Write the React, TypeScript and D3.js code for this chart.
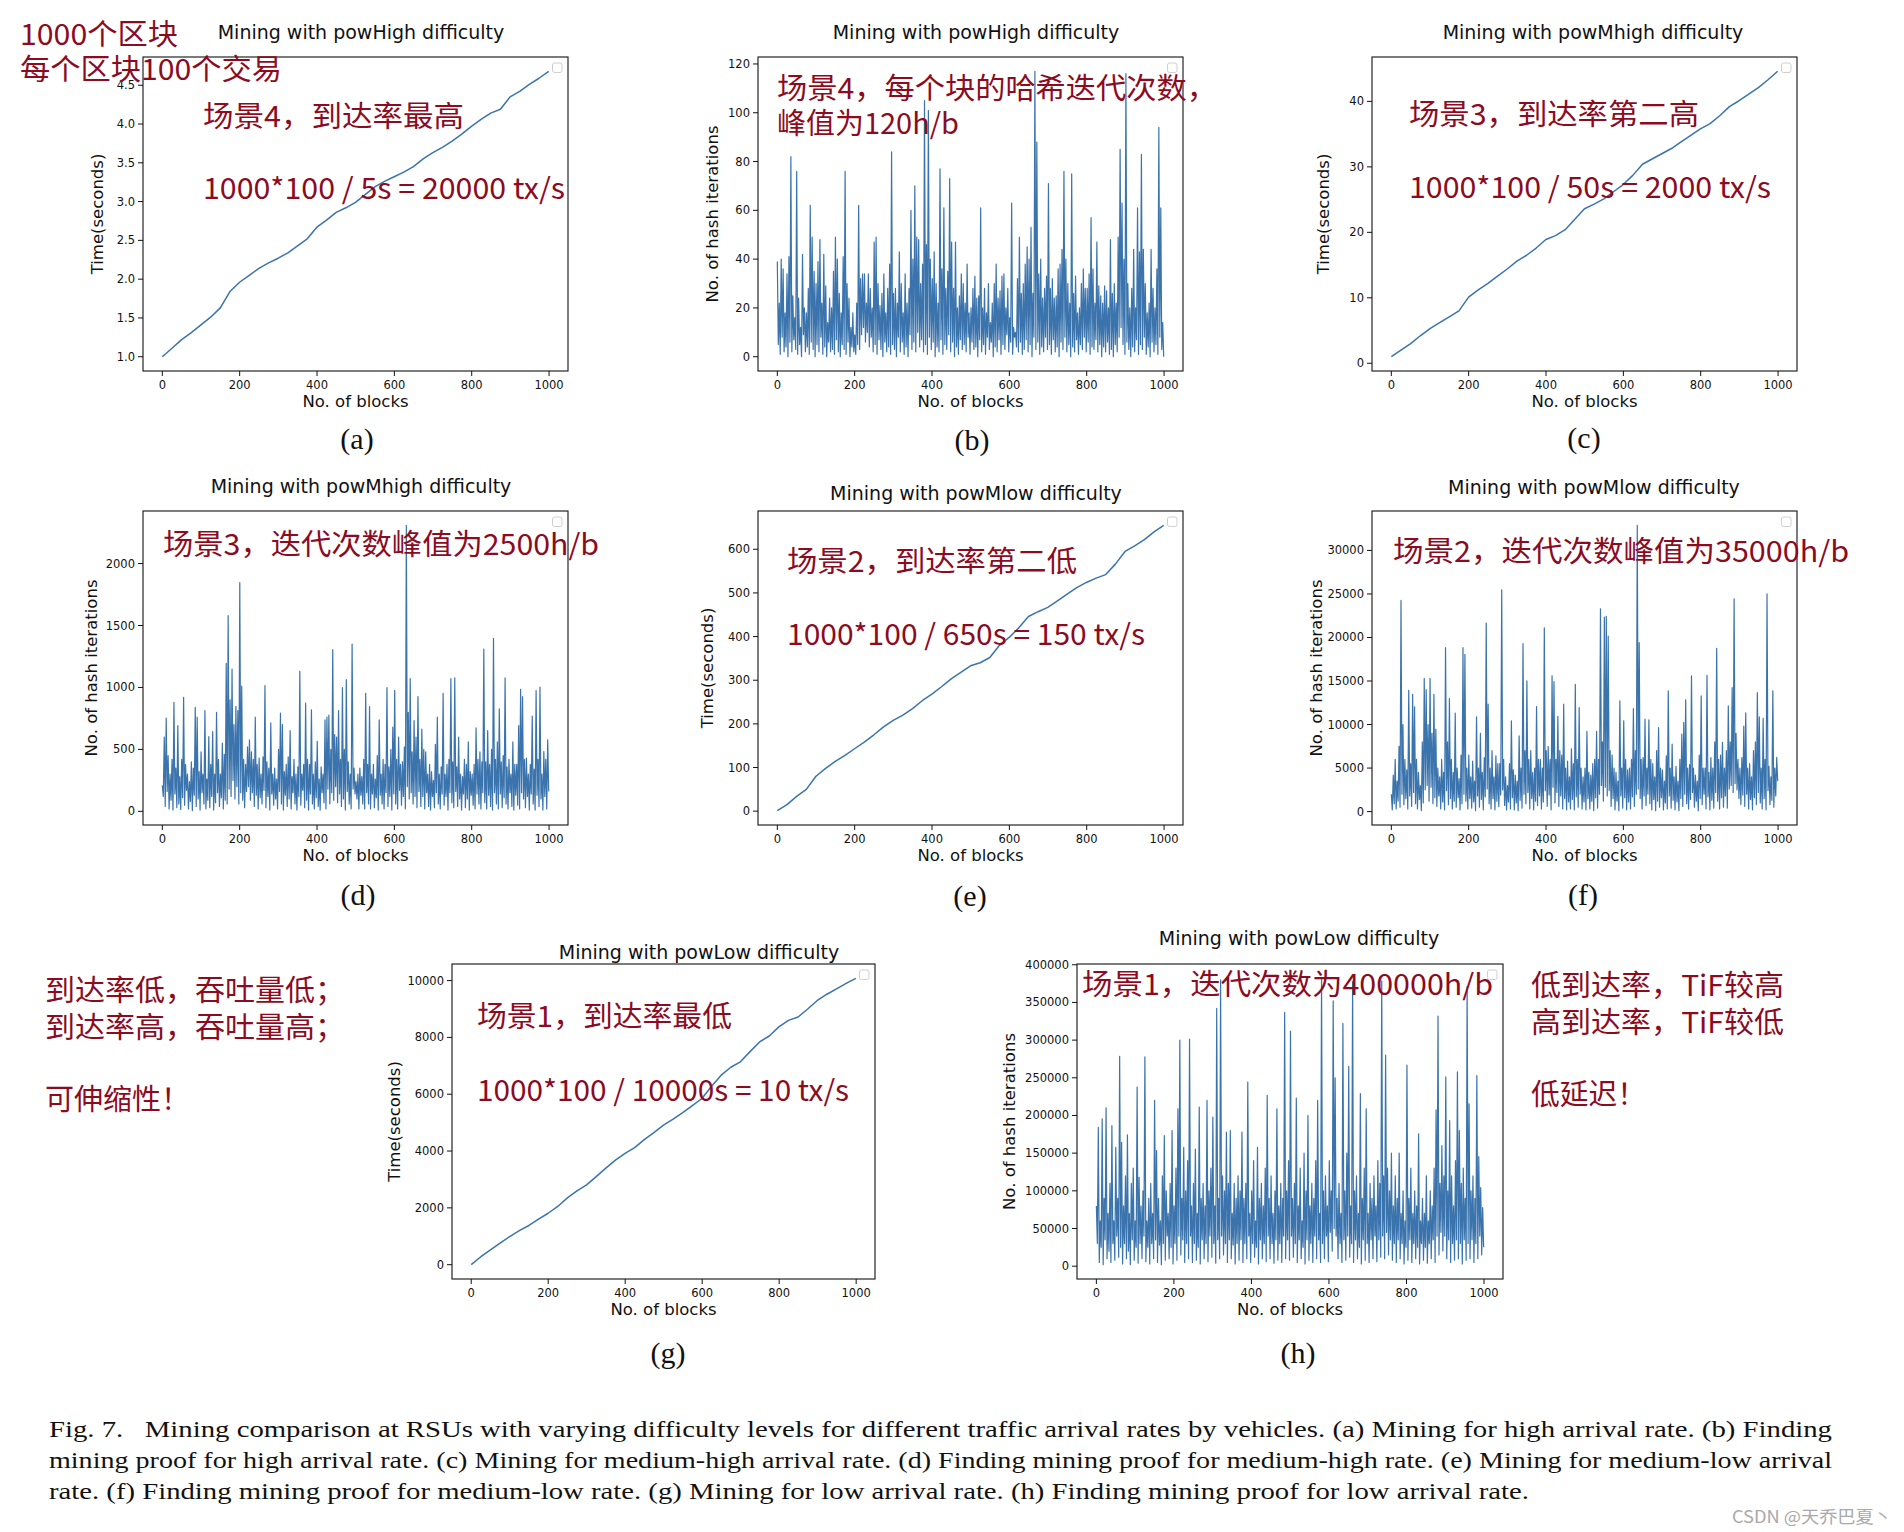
import React from 'react';
import * as d3 from 'd3';

// ---------- DATA ----------
const lastBlock = 999; // every series runs from block 0 to block 999, samples evenly spaced

const timeHigh = [1.0, 1.11, 1.22, 1.31, 1.41, 1.51, 1.63, 1.84, 1.96, 2.05, 2.14, 2.21, 2.27, 2.34, 2.43, 2.52, 2.67, 2.76, 2.86, 2.92, 2.99, 3.09, 3.19, 3.26, 3.32, 3.38, 3.45, 3.55, 3.63, 3.7, 3.78, 3.87, 3.97, 4.06, 4.14, 4.19, 4.35, 4.42, 4.51, 4.59, 4.68];

const hashHigh = [39,5, 22,1, 40,8, 36,2, 18,4, 34,0, 41,6, 82,2, 25,7, 16,3, 76,1, 24,5, 12,0, 42,9, 20,2, 18,4, 28,1, 62,6, 49,3, 35,0, 30,5, 39,2, 48,8, 22,1, 42,4, 29,0, 14,6, 24,2, 20,3, 35,1, 49,7, 40,2, 26,0, 18,5, 41,3, 76,1, 30,6, 24,0, 12,4, 18,2, 9,1, 22,5, 62,3, 32,9, 34,12, 34,6, 22,10, 34,4, 28,8, 20,2, 47,5, 49,1, 30,7, 21,3, 26,0, 34,6, 18,2, 28,4, 38,1, 84,5, 26,3, 28,0, 22,8, 43,2, 30,6, 18,1, 34,4, 22,0, 28,9, 60,3, 40,6, 70,2, 49,10, 48,4, 30,7, 38,2, 105,5, 46,1, 101,8, 40,3, 32,6, 43,0, 30,4, 22,2, 77,7, 36,1, 61,5, 28,3, 35,9, 73,2, 47,6, 28,0, 47,4, 20,1, 25,7, 34,3, 30,5, 22,2, 38,8, 18,1, 20,6, 28,3, 33,4, 24,0, 25,7, 61,2, 20,5, 28,1, 18,8, 30,3, 14,6, 22,0, 30,4, 38,2, 24,7, 27,1, 33,5, 34,3, 20,9, 28,2, 16,6, 63,1, 12,8, 10,4, 32,2, 49,6, 26,1, 30,3, 38,7, 45,2, 40,5, 53,0, 26,8, 117,3, 88,6, 34,1, 40,4, 24,2, 28,8, 33,3, 71,5, 28,1, 32,7, 24,2, 25,4, 36,0, 38,6, 44,3, 76,8, 40,2, 30,5, 22,0, 75,4, 26,2, 33,7, 18,1, 20,5, 30,3, 36,8, 28,2, 28,6, 34,1, 57,4, 36,3, 22,7, 47,2, 29,5, 25,0, 22,4, 29,2, 27,6, 20,1, 48,3, 26,0, 30,5, 22,2, 49,8, 85,12, 63,5, 40,1, 116,6, 30,3, 20,0, 28,4, 44,2, 20,7, 61,1, 43,5, 83,3, 44,8, 30,1, 18,4, 22,0, 44,6, 28,2, 20,5, 36,1, 94,8, 61,3, 14,0];

const timeMhigh = [1.0, 2.0, 3.0, 4.2, 5.3, 6.2, 7.1, 8.0, 10.1, 11.2, 12.2, 13.3, 14.4, 15.6, 16.5, 17.6, 18.9, 19.5, 20.4, 22.0, 23.6, 24.3, 25.1, 26.2, 27.3, 28.7, 30.4, 31.2, 32.0, 32.8, 33.8, 34.8, 35.8, 36.6, 37.8, 39.2, 40.1, 41.1, 42.1, 43.3, 44.6];

const hashMhigh = [210,120, 600,40, 752,160, 450,20, 300,90, 420,10, 880,140, 350,30, 693,60, 280,15, 420,110, 920,50, 380,170, 300,20, 240,80, 400,5, 350,130, 840,40, 760,100, 320,10, 480,150, 300,60, 814,20, 260,90, 604,30, 380,120, 644,10, 300,70, 800,150, 420,40, 300,110, 550,20, 460,90, 1195,60, 1579,180, 900,120, 1149,250, 700,100, 848,200, 814,60, 1847,150, 1010,90, 420,30, 380,160, 520,200, 577,90, 480,150, 420,40, 760,130, 380,20, 430,110, 300,60, 440,170, 1015,30, 400,120, 350,10, 714,140, 300,50, 350,100, 260,20, 500,160, 792,60, 700,10, 320,130, 380,40, 440,100, 652,20, 280,150, 420,60, 300,10, 360,120, 1130,50, 300,170, 380,30, 873,90, 420,10, 380,140, 819,60, 300,20, 400,110, 564,40, 260,10, 360,150, 300,70, 738,20, 760,180, 776,60, 500,150, 1305,90, 620,200, 600,70, 814,140, 420,40, 999,100, 500,10, 1063,160, 400,60, 300,20, 1350,180, 350,140, 240,100, 300,20, 350,130, 280,60, 420,20, 953,150, 380,60, 846,20, 300,140, 380,30, 260,110, 450,10, 738,130, 300,60, 420,20, 380,150, 999,40, 360,120, 500,10, 679,140, 977,60, 420,20, 600,170, 380,50, 400,120, 520,20, 2309,200, 800,100, 1071,150, 480,60, 733,120, 600,30, 926,160, 420,40, 663,120, 500,20, 480,150, 300,40, 380,10, 320,120, 250,30, 540,150, 760,60, 300,20, 360,140, 953,50, 300,120, 380,10, 420,150, 1071,70, 400,30, 1077,160, 360,40, 600,100, 300,10, 280,140, 420,30, 380,100, 560,10, 320,130, 300,50, 380,20, 674,140, 420,60, 480,20, 400,150, 1310,70, 400,20, 652,130, 380,40, 500,10, 1396,150, 420,60, 560,20, 827,140, 400,30, 450,110, 1077,60, 360,20, 420,150, 300,40, 560,10, 380,130, 380,50, 693,20, 985,150, 926,100, 420,30, 430,120, 300,10, 380,140, 768,60, 340,10, 975,130, 420,40, 1002,100, 300,10, 483,120, 420,20, 577,160];

const timeMlow = [1, 15, 34, 50, 80, 98, 114, 128, 143, 158, 175, 193, 208, 220, 235, 253, 268, 285, 303, 318, 333, 340, 352, 380, 398, 420, 446, 457, 467, 482, 497, 512, 524, 534, 542, 566, 595, 608, 622, 640, 655];

const hashMlow = [2000,200, 4200,900, 6000,300, 3500,1200, 7500,500, 24260,2000, 10000,800, 6000,1500, 4800,300, 13940,1800, 5500,600, 13480,2200, 12030,900, 6000,300, 4500,1400, 3000,100, 8000,1000, 15320,2500, 14000,3000, 10000,1200, 15320,2800, 9000,900, 13480,1600, 9470,600, 5000,1800, 4000,300, 6000,1100, 4500,200, 18830,2400, 8000,800, 12990,1500, 6000,300, 4500,1200, 11310,500, 5000,1600, 3800,200, 6500,900, 18830,2000, 18070,1200, 5000,300, 6500,1500, 4000,400, 5800,1100, 3500,100, 10890,1800, 5000,500, 8980,1400, 4500,200, 6200,1700, 21660,2600, 12340,900, 5000,300, 7000,1500, 4000,200, 6400,1200, 5500,600, 5500,1900, 25480,2500, 6000,700, 4000,200, 3000,1100, 5500,300, 10430,1600, 4800,200, 4200,1000, 3500,100, 8710,1300, 5000,400, 19290,2000, 7000,900, 15010,2200, 6000,300, 7000,1500, 4500,200, 5000,1200, 12070,700, 6000,1800, 6000,300, 5000,1100, 21120,2400, 7000,600, 7500,1900, 6000,200, 15590,2800, 14940,1000, 6000,2200, 10930,600, 7000,1800, 6500,300, 12340,1500, 5000,200, 5800,1100, 4000,300, 7200,1400, 5500,200, 14630,1700, 6000,500, 11960,2000, 5000,300, 4000,1100, 5000,200, 9210,1500, 4500,300, 4200,1200, 5500,100, 6000,1600, 9210,400, 6000,2000, 23300,3000, 8000,1200, 22350,2800, 22420,1800, 20170,2400, 7000,600, 6500,1500, 5000,200, 4500,1200, 3500,100, 12720,1800, 5000,400, 10430,1600, 6000,200, 4800,1100, 5000,300, 6000,1700, 11840,600, 7000,2000, 32890,2600, 19400,1500, 6000,300, 6200,1800, 10620,700, 5000,2000, 10540,900, 6000,200, 5500,1400, 4000,100, 7000,1200, 9660,500, 5000,1600, 4800,200, 3500,1000, 6400,300, 13870,1800, 5000,400, 7750,1300, 4000,200, 5200,1100, 3500,100, 6000,1500, 8900,600, 10240,2000, 12840,900, 5000,300, 5400,1400, 15590,2200, 5000,500, 4200,1200, 3500,100, 6500,1500, 13290,800, 5000,2000, 5000,300, 15660,1700, 4500,200, 6200,1300, 5000,400, 8000,2200, 18760,1200, 6000,300, 6500,1600, 7950,500, 5000,1800, 7000,400, 12150,2600, 8000,3000, 14250,2200, 24450,3200, 9000,2500, 6000,1500, 5000,800, 6200,1900, 9820,600, 11350,2000, 5000,300, 5500,1400, 4000,200, 7000,1600, 8000,800, 13680,2200, 10890,1000, 5000,300, 10700,1500, 6000,200, 25020,2400, 5200,800, 4000,1300, 13870,500, 5000,1800, 6230,3500];

const timeLow = [0, 280, 520, 760, 990, 1200, 1380, 1600, 1810, 2050, 2350, 2600, 2810, 3100, 3400, 3680, 3920, 4120, 4400, 4650, 4910, 5120, 5350, 5600, 5850, 6280, 6670, 6950, 7140, 7500, 7840, 8050, 8370, 8600, 8720, 9000, 9300, 9520, 9710, 9900, 10080];

const hashLow = [80000,30000, 184400,5000, 60000,25000, 195500,2000, 90000,35000, 210200,10000, 70000,20000, 110000,5000, 186600,30000, 60000,8000, 157800,40000, 90000,12000, 278600,25000, 164400,3000, 80000,30000, 120000,10000, 174200,20000, 70000,2000, 110000,35000, 130000,8000, 60000,25000, 237700,4000, 117800,30000, 80000,10000, 100000,40000, 277700,6000, 60000,25000, 90000,3000, 110000,30000, 70000,10000, 220000,35000, 153300,5000, 90000,28000, 60000,2000, 120000,30000, 173300,8000, 100000,40000, 70000,10000, 110000,25000, 180000,3000, 80000,30000, 130000,8000, 208900,40000, 300000,15000, 90000,35000, 157800,5000, 100000,30000, 140000,10000, 301300,40000, 80000,5000, 110000,30000, 155500,8000, 70000,25000, 211100,3000, 90000,35000, 110000,10000, 80000,30000, 220000,6000, 100000,40000, 130000,12000, 197800,30000, 80000,4000, 342200,35000, 90000,10000, 380000,40000, 120000,15000, 100000,30000, 177800,5000, 110000,35000, 180000,10000, 70000,28000, 110000,3000, 90000,30000, 120000,8000, 100000,35000, 177800,5000, 90000,30000, 110000,10000, 244400,40000, 70000,5000, 100000,30000, 140000,12000, 60000,25000, 157800,3000, 90000,35000, 110000,10000, 80000,30000, 130000,6000, 226700,40000, 90000,10000, 120000,30000, 70000,4000, 100000,35000, 208900,8000, 80000,30000, 110000,5000, 90000,40000, 336900,10000, 100000,35000, 140000,8000, 312000,40000, 90000,12000, 110000,30000, 223100,5000, 80000,35000, 130000,10000, 60000,25000, 150000,3000, 100000,35000, 200000,8000, 80000,30000, 110000,5000, 90000,40000, 140000,10000, 220000,35000, 70000,5000, 382000,30000, 100000,10000, 120000,40000, 80000,6000, 140000,45000, 100000,20000, 352000,50000, 250000,40000, 90000,10000, 110000,30000, 70000,5000, 322200,35000, 100000,8000, 150000,40000, 265300,12000, 80000,30000, 377800,5000, 100000,35000, 120000,10000, 70000,25000, 228900,3000, 90000,35000, 130000,8000, 208900,30000, 70000,5000, 110000,35000, 90000,10000, 120000,40000, 80000,6000, 140000,35000, 110000,12000, 378600,40000, 120000,10000, 280000,45000, 130000,15000, 100000,35000, 150000,8000, 80000,30000, 120000,5000, 90000,35000, 150000,10000, 70000,30000, 100000,3000, 60000,25000, 266700,8000, 90000,35000, 130000,5000, 70000,30000, 100000,10000, 80000,25000, 175500,3000, 60000,30000, 90000,8000, 70000,25000, 120000,4000, 60000,30000, 100000,10000, 80000,35000, 130000,5000, 207500,40000, 332000,15000, 110000,45000, 160000,20000, 120000,40000, 251100,10000, 100000,35000, 193300,5000, 120000,30000, 80000,8000, 140000,35000, 257800,10000, 180000,30000, 110000,3000, 130000,35000, 90000,8000, 371000,30000, 215500,10000, 100000,35000, 120000,5000, 90000,30000, 252900,10000, 145300,40000, 104400,15000, 77800,25000];

const xTicks = [0, 200, 400, 600, 800, 1000];
const yTicksA = [1.0, 1.5, 2.0, 2.5, 3.0, 3.5, 4.0, 4.5];
const yTicksB = [0, 20, 40, 60, 80, 100, 120];
const yTicksC = [0, 10, 20, 30, 40];
const yTicksD = [0, 500, 1000, 1500, 2000];
const yTicksE = [0, 100, 200, 300, 400, 500, 600];
const yTicksF = [0, 5000, 10000, 15000, 20000, 25000, 30000];
const yTicksG = [0, 2000, 4000, 6000, 8000, 10000];
const yTicksH = [0, 50000, 100000, 150000, 200000, 250000, 300000, 350000, 400000];

const titleHigh = 'Mining with powHigh difficulty';
const titleMhigh = 'Mining with powMhigh difficulty';
const titleMlow = 'Mining with powMlow difficulty';
const titleLow = 'Mining with powLow difficulty';
const labelTime = 'Time(seconds)';
const labelHash = 'No. of hash iterations';
const labelBlocks = 'No. of blocks';

const captionLines = [
  'Fig. 7.   Mining comparison at RSUs with varying difficulty levels for different traffic arrival rates by vehicles. (a) Mining for high arrival rate. (b) Finding',
  'mining proof for high arrival rate. (c) Mining for medium-high arrival rate. (d) Finding mining proof for medium-high rate. (e) Mining for medium-low arrival',
  'rate. (f) Finding mining proof for medium-low rate. (g) Mining for low arrival rate. (h) Finding mining proof for low arrival rate.',
];

// ---------- LAYOUT ----------
type Panel = {
  values: number[]; title: string; ylabel: string; yTicks: number[]; thin: boolean;
  fmt: (v: number) => string; box: [number, number, number, number];
  titleX: number; titleY: number; ylabOff: number; sub: string; subX: number; subY: number;
};

const panels: Panel[] = [
  { values: timeHigh, thin: false, title: titleHigh, ylabel: labelTime, yTicks: yTicksA, fmt: v => v.toFixed(1), box: [143, 57, 568, 371], titleX: 361, titleY: 32, ylabOff: 46, sub: '(a)', subX: 357, subY: 438 },
  { values: hashHigh, thin: true, title: titleHigh, ylabel: labelHash, yTicks: yTicksB, fmt: v => String(v), box: [758, 57, 1183, 371], titleX: 976, titleY: 32, ylabOff: 46, sub: '(b)', subX: 972, subY: 439 },
  { values: timeMhigh, thin: false, title: titleMhigh, ylabel: labelTime, yTicks: yTicksC, fmt: v => String(v), box: [1372, 57, 1797, 371], titleX: 1593, titleY: 32, ylabOff: 49, sub: '(c)', subX: 1584, subY: 437 },
  { values: hashMhigh, thin: true, title: titleMhigh, ylabel: labelHash, yTicks: yTicksD, fmt: v => String(v), box: [143, 511, 568, 825], titleX: 361, titleY: 486, ylabOff: 52, sub: '(d)', subX: 358, subY: 894 },
  { values: timeMlow, thin: false, title: titleMlow, ylabel: labelTime, yTicks: yTicksE, fmt: v => String(v), box: [758, 511, 1183, 825], titleX: 976, titleY: 493, ylabOff: 51, sub: '(e)', subX: 970, subY: 895 },
  { values: hashMlow, thin: true, title: titleMlow, ylabel: labelHash, yTicks: yTicksF, fmt: v => String(v), box: [1372, 511, 1797, 825], titleX: 1594, titleY: 487, ylabOff: 56, sub: '(f)', subX: 1583, subY: 894 },
  { values: timeLow, thin: false, title: titleLow, ylabel: labelTime, yTicks: yTicksG, fmt: v => String(v), box: [452, 964, 875, 1279], titleX: 699, titleY: 952, ylabOff: 58, sub: '(g)', subX: 668, subY: 1352 },
  { values: hashLow, thin: true, title: titleLow, ylabel: labelHash, yTicks: yTicksH, fmt: v => String(v), box: [1077, 964, 1503, 1279], titleX: 1299, titleY: 938, ylabOff: 68, sub: '(h)', subX: 1298, subY: 1352 },
];

// red annotation texts: [text, x, centerY, width]
const notes: [string, number, number, number][] = [
  ['1000个区块', 20, 32, 158],
  ['每个区块100个交易', 20, 67, 262],
  ['场景4，到达率最高', 203, 114, 261],
  ['1000*100 / 5s = 20000 tx/s', 203, 186, 362],
  ['场景4，每个块的哈希迭代次数，', 777, 86, 440],
  ['峰值为120h/b', 777, 121, 182],
  ['场景3，到达率第二高', 1409, 112, 290],
  ['1000*100 / 50s = 2000 tx/s', 1409, 185, 362],
  ['场景3，迭代次数峰值为2500h/b', 163, 542, 436],
  ['场景2，到达率第二低', 787, 559, 290],
  ['1000*100 / 650s = 150 tx/s', 787, 632, 358],
  ['场景2，迭代次数峰值为35000h/b', 1393, 549, 456],
  ['到达率低，吞吐量低；', 45, 988, 300],
  ['到达率高，吞吐量高；', 45, 1025, 300],
  ['可伸缩性！', 45, 1097, 145],
  ['场景1，到达率最低', 477, 1014, 255],
  ['1000*100 / 10000s = 10 tx/s', 477, 1088, 372],
  ['场景1，迭代次数为400000h/b', 1082, 982, 411],
  ['低到达率，TiF较高', 1531, 983, 253],
  ['高到达率，TiF较低', 1531, 1020, 253],
  ['低延迟！', 1531, 1092, 115],
];

const LINE = '#3b74ad';
const RED = '#8c0b1f';
const AX_FONT = '"DejaVu Sans", sans-serif';

function Chart({ p }: { p: Panel }) {
  const [L, T, R, B] = p.box;
  const x = d3.scaleLinear().domain([-49.95, 1048.95]).range([L, R]);
  const [mn, mx] = d3.extent(p.values) as [number, number];
  const pad = (mx - mn) * 0.05;
  const y = d3.scaleLinear().domain([mn - pad, mx + pad]).range([B, T]);
  const n = p.values.length;
  const block = d3.scaleLinear().domain([0, n - 1]).range([0, lastBlock]);
  const line = d3.line<number>().x((_, i) => x(block(i))).y(d => y(d));
  const midY = (T + B) / 2;
  return (
    <g>
      <path d={line(p.values) || ''} fill="none" stroke={LINE} strokeWidth={p.thin ? 1.2 : 1.5} strokeLinejoin="round" />
      <rect x={L} y={T} width={R - L} height={B - T} fill="none" stroke="#111" strokeWidth={1.1} />
      <rect x={R - 15.5} y={T + 6} width={9.5} height={9.5} rx={2} fill="#fff" stroke="#cfcfcf" strokeWidth={1} />
      {xTicks.map(t => (
        <g key={'x' + t}>
          <line x1={x(t)} x2={x(t)} y1={B} y2={B + 5} stroke="#111" strokeWidth={1} />
          <text x={x(t)} y={B + 13.5} fontSize={11.5} fontFamily={AX_FONT} textAnchor="middle" dominantBaseline="central" fill="#111">{t}</text>
        </g>
      ))}
      {p.yTicks.map(t => (
        <g key={'y' + t}>
          <line x1={L - 5} x2={L} y1={y(t)} y2={y(t)} stroke="#111" strokeWidth={1} />
          <text x={L - 8} y={y(t)} fontSize={11.5} fontFamily={AX_FONT} textAnchor="end" dominantBaseline="central" fill="#111">{p.fmt(t)}</text>
        </g>
      ))}
      <text x={p.titleX} y={p.titleY} fontSize={19} fontFamily={AX_FONT} textAnchor="middle" dominantBaseline="central" fill="#111">{p.title}</text>
      <text x={(L + R) / 2} y={B + 30} fontSize={16.5} fontFamily={AX_FONT} textAnchor="middle" dominantBaseline="central" fill="#111">{labelBlocks}</text>
      <text transform={`translate(${L - p.ylabOff},${midY}) rotate(-90)`} fontSize={16.5} fontFamily={AX_FONT} textAnchor="middle" dominantBaseline="central" fill="#111">{p.ylabel}</text>
      <text x={p.subX} y={p.subY} fontSize={30} fontFamily='"Liberation Serif", "Times New Roman", serif' textAnchor="middle" dominantBaseline="central" fill="#111">{p.sub}</text>
    </g>
  );
}

export default function App() {
  return (
    <svg width={1904} height={1532} style={{ position: 'absolute', left: 0, top: 0, background: '#fff' }}>
      <rect x={0} y={0} width={1904} height={1532} fill="#fff" />
      {panels.map((p, i) => <Chart key={i} p={p} />)}
      {notes.map(([t, nx, ny, w], i) => (
        <text key={'n' + i} x={nx} y={ny} fontSize={29} fontFamily='"Noto Sans CJK SC", sans-serif' fill={RED}
          dominantBaseline="central" textLength={w} lengthAdjust="spacingAndGlyphs">{t}</text>
      ))}
      {captionLines.map((t, i) => (
        <text key={'c' + i} x={49} y={1437 + i * 31} fontSize={23} fontFamily='"Liberation Serif", "Times New Roman", serif' fill="#111"
          style={{ whiteSpace: 'pre' }} textLength={i < 2 ? 1783 : 1480} lengthAdjust="spacingAndGlyphs">{t}</text>
      ))}
      <text x={1732} y={1515} fontSize={17} fontFamily='"Noto Sans CJK SC", sans-serif' fill="#a9a9a9" dominantBaseline="central"
        textLength={160} lengthAdjust="spacingAndGlyphs">CSDN @天乔巴夏丶</text>
    </svg>
  );
}
